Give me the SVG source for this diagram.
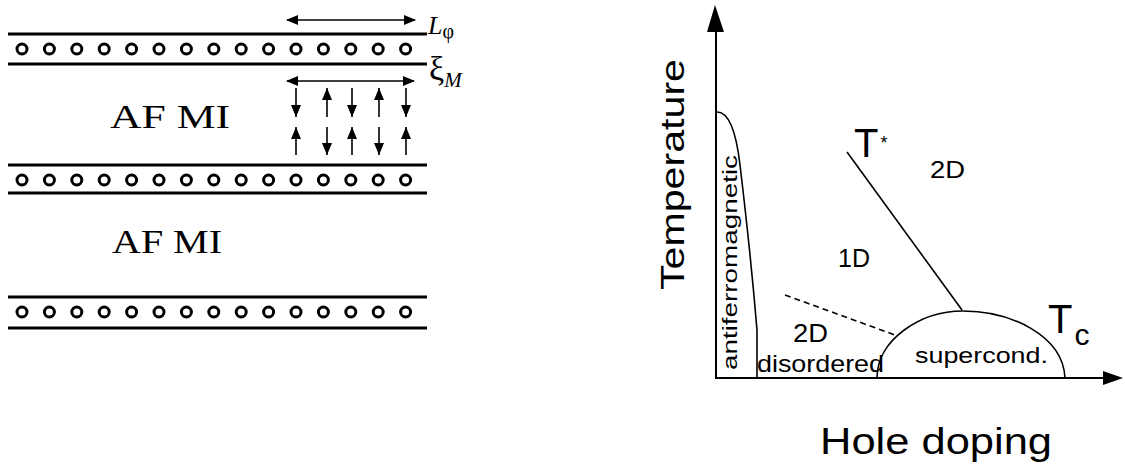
<svg xmlns="http://www.w3.org/2000/svg" width="1125" height="470" viewBox="0 0 1125 470">
<style>
.bar{stroke:#000;stroke-width:3;fill:none}
.atom{fill:none;stroke:#000;stroke-width:3}
.dbl{stroke:#000;stroke-width:1.4;fill:none}
.spin{stroke:#000;stroke-width:1.6;fill:none}
.ser{font-family:"Liberation Serif","Times New Roman",serif;fill:#000}
.san{font-family:"Liberation Sans",Arial,sans-serif;fill:#000}
.ax{stroke:#000;stroke-width:2;fill:none}
.crv{stroke:#000;stroke-width:1.6;fill:none}
</style>
<defs>
<marker id="ah" markerUnits="userSpaceOnUse" markerWidth="12" markerHeight="10" refX="11" refY="5" orient="auto-start-reverse" viewBox="0 0 12 10">
<path d="M0,0 L12,5 L0,10 z" fill="#000"/>
</marker>
<marker id="sh" markerUnits="userSpaceOnUse" markerWidth="12" markerHeight="10" refX="12" refY="5" orient="auto" viewBox="0 0 12 10">
<path d="M0,0 L12,5 L0,10 z" fill="#000"/>
</marker>
<g id="row">
<circle class="atom" cx="22" cy="0" r="5"/><circle class="atom" cx="49.4" cy="0" r="5"/><circle class="atom" cx="76.8" cy="0" r="5"/><circle class="atom" cx="104.2" cy="0" r="5"/><circle class="atom" cx="131.6" cy="0" r="5"/><circle class="atom" cx="159" cy="0" r="5"/><circle class="atom" cx="186.4" cy="0" r="5"/><circle class="atom" cx="213.8" cy="0" r="5"/><circle class="atom" cx="241.2" cy="0" r="5"/><circle class="atom" cx="268.6" cy="0" r="5"/><circle class="atom" cx="296" cy="0" r="5"/><circle class="atom" cx="323.4" cy="0" r="5"/><circle class="atom" cx="350.8" cy="0" r="5"/><circle class="atom" cx="378.2" cy="0" r="5"/><circle class="atom" cx="405.6" cy="0" r="5"/>
</g>
</defs>
<rect width="1125" height="470" fill="#fff"/>

<g id="left-panel">
<g id="layer1">
<line class="bar" x1="8" y1="34" x2="427" y2="34"/>
<use href="#row" y="49"/>
<line class="bar" x1="8" y1="64" x2="427" y2="64"/>
</g>
<g id="layer2">
<line class="bar" x1="8" y1="165" x2="427" y2="165"/>
<use href="#row" y="180"/>
<line class="bar" x1="8" y1="193" x2="427" y2="193"/>
</g>
<g id="layer3">
<line class="bar" x1="8" y1="297" x2="427" y2="297"/>
<use href="#row" y="312"/>
<line class="bar" x1="8" y1="328" x2="427" y2="328"/>
</g>
<g id="label-afmi1"><text class="ser" x="110" y="128" font-size="33" textLength="120" lengthAdjust="spacingAndGlyphs">AF MI</text></g>
<g id="label-afmi2"><text class="ser" x="112" y="253" font-size="34" textLength="110" lengthAdjust="spacingAndGlyphs">AF MI</text></g>
<g id="label-Lphi"><text class="ser" x="428" y="34" font-size="26" font-style="italic">L<tspan font-style="normal" font-size="20" dy="4">φ</tspan></text></g>
<g id="label-xiM"><text class="ser" x="429" y="80" font-size="34">ξ<tspan font-style="italic" font-size="21" dy="7">M</tspan></text></g>
</g>

<g id="connectors">
<line class="dbl" x1="287" y1="20" x2="415" y2="20" marker-start="url(#ah)" marker-end="url(#ah)"/>
<line class="dbl" x1="287" y1="81" x2="414" y2="81" marker-start="url(#ah)" marker-end="url(#ah)"/>
<g id="spins">
<line class="spin" x1="296" y1="88" x2="296" y2="117" marker-end="url(#sh)"/>
<line class="spin" x1="327" y1="117" x2="327" y2="88" marker-end="url(#sh)"/>
<line class="spin" x1="352" y1="88" x2="352" y2="117" marker-end="url(#sh)"/>
<line class="spin" x1="379" y1="117" x2="379" y2="88" marker-end="url(#sh)"/>
<line class="spin" x1="406" y1="88" x2="406" y2="117" marker-end="url(#sh)"/>
<line class="spin" x1="296" y1="155" x2="296" y2="127" marker-end="url(#sh)"/>
<line class="spin" x1="327" y1="127" x2="327" y2="155" marker-end="url(#sh)"/>
<line class="spin" x1="352" y1="155" x2="352" y2="127" marker-end="url(#sh)"/>
<line class="spin" x1="379" y1="127" x2="379" y2="155" marker-end="url(#sh)"/>
<line class="spin" x1="406" y1="155" x2="406" y2="127" marker-end="url(#sh)"/>
</g>
</g>

<g id="phase-diagram">
<g id="axes">
<line class="ax" x1="716" y1="30" x2="716" y2="378"/>
<polygon points="715,5 707,32 724,32" fill="#000"/>
<line class="ax" x1="715" y1="378" x2="1105" y2="378"/>
<polygon points="1123,378 1103,371 1103,385" fill="#000"/>
</g>
<g id="af-dome">
<path class="crv" d="M717,112 C728,112 736,130 740,165 C746,215 752,270 757,330 L757,378"/>
<text class="san" transform="translate(737,370) rotate(-90)" font-size="21" textLength="215" lengthAdjust="spacingAndGlyphs">antiferromagnetic</text>
</g>
<g id="sc-dome">
<path class="crv" d="M877,378 C877,340 920,311 963,311 C1010,311 1063,335 1065,378"/>
<text class="san" x="915" y="363" font-size="22" textLength="133" lengthAdjust="spacingAndGlyphs">supercond.</text>
</g>
<g id="tstar-line">
<line class="crv" x1="847" y1="152" x2="962" y2="310"/>
<line class="crv" x1="785" y1="295" x2="895" y2="335" stroke-dasharray="6 4"/>
</g>
<g id="labels">
<text class="san" transform="translate(684,290) rotate(-90)" font-size="33" textLength="231" lengthAdjust="spacingAndGlyphs">Temperature</text>
<text class="san" x="820" y="454" font-size="36" textLength="232" lengthAdjust="spacingAndGlyphs">Hole doping</text>
<text class="san" x="854" y="157" font-size="40">T<tspan font-size="18" dx="2" dy="-8">*</tspan></text>
<text class="san" x="930" y="178" font-size="24" textLength="35" lengthAdjust="spacingAndGlyphs">2D</text>
<text class="san" x="838" y="267" font-size="26" textLength="32" lengthAdjust="spacingAndGlyphs">1D</text>
<text class="san" x="793" y="342" font-size="26" textLength="35" lengthAdjust="spacingAndGlyphs">2D</text>
<text class="san" x="757" y="372" font-size="24" textLength="127" lengthAdjust="spacingAndGlyphs">disordered</text>
<text class="san" x="1048" y="333" font-size="40">T<tspan font-size="30" dx="2" dy="12">c</tspan></text>
</g>
</g>
</svg>
